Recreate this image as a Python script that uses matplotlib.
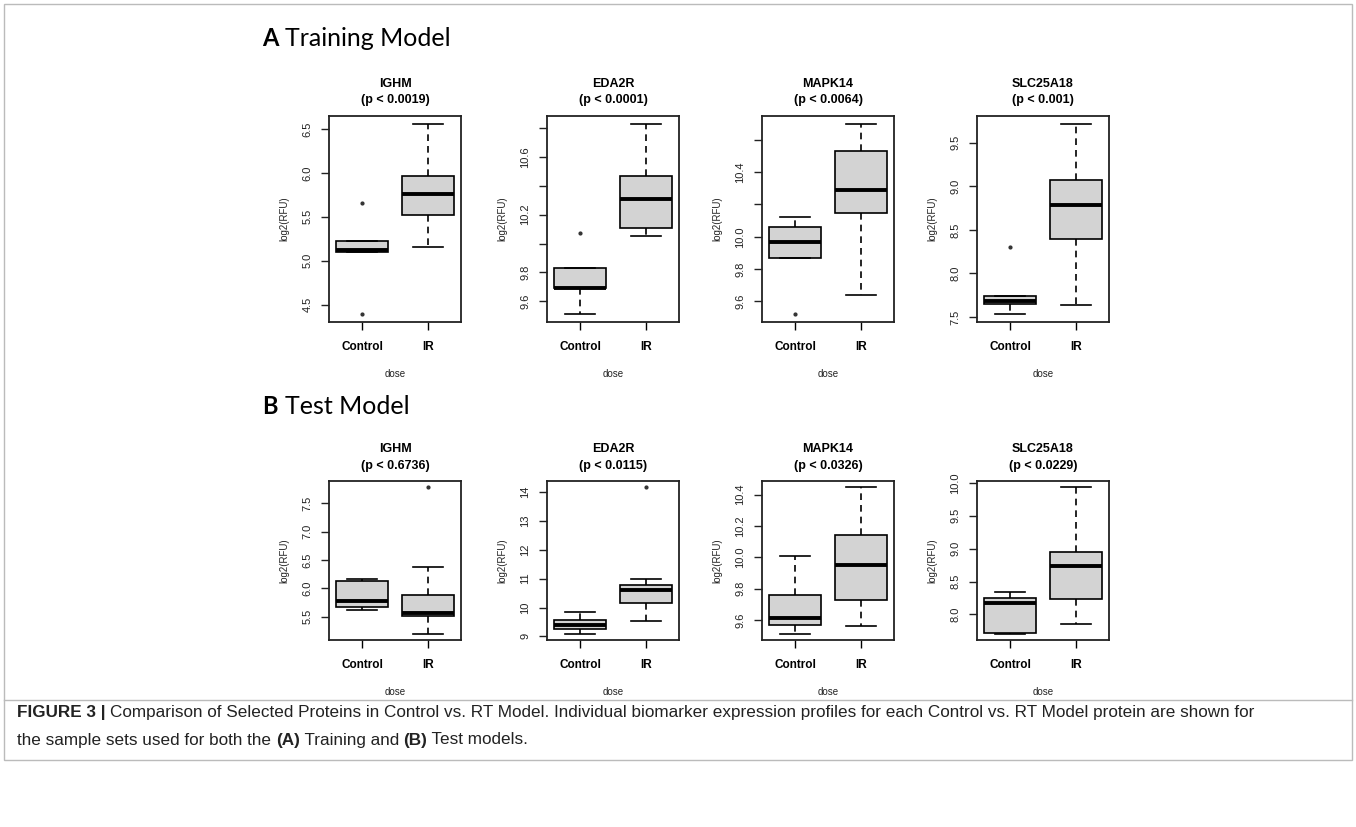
import matplotlib
matplotlib.use("Agg")
import matplotlib.pyplot as plt
from matplotlib.patches import Rectangle
from matplotlib.lines import Line2D

# Boxplot data
genes = ["IGHM", "EDA2R", "MAPK14", "SLC25A18"]
groups = ["Control", "IR"]
train_p = ["0.0019", "0.0001", "0.0064", "0.001"]
test_p = ["0.6736", "0.0115", "0.0326", "0.0229"]

# five number summaries: [whislo, q1, med, q3, whishi]
train_control = [[5.10, 5.10, 5.12, 5.22, 5.22],
                 [9.51, 9.69, 9.69, 9.83, 9.83],
                 [9.87, 9.87, 9.97, 10.06, 10.12],
                 [7.53, 7.645, 7.685, 7.74, 7.74]]
train_ir = [[5.16, 5.52, 5.76, 5.96, 6.56],
            [10.05, 10.105, 10.31, 10.47, 10.83],
            [9.64, 10.15, 10.29, 10.53, 10.70],
            [7.64, 8.39, 8.79, 9.07, 9.72]]
train_control_out = [[5.66, 4.39], [10.07], [9.52], [8.30]]
train_ir_out = [[], [], [], []]

test_control = [[5.61, 5.67, 5.78, 6.13, 6.16],
                [9.08, 9.27, 9.40, 9.58, 9.83],
                [9.51, 9.57, 9.61, 9.76, 10.01],
                [7.70, 7.72, 8.17, 8.25, 8.34]]
test_ir = [[5.19, 5.51, 5.56, 5.88, 6.37],
           [9.53, 10.17, 10.61, 10.77, 11.00],
           [9.56, 9.73, 9.95, 10.145, 10.45],
           [7.86, 8.24, 8.74, 8.95, 9.94]]
test_control_out = [[], [], [], []]
test_ir_out = [[7.79], [14.17], [], []]

# y ticks and which ones R managed to label
train_ticks = [[4.5, 5.0, 5.5, 6.0, 6.5],
               [9.6, 9.8, 10.0, 10.2, 10.4, 10.6, 10.8],
               [9.6, 9.8, 10.0, 10.2, 10.4, 10.6],
               [7.5, 8.0, 8.5, 9.0, 9.5]]
train_ticklabels = [["4.5", "5.0", "5.5", "6.0", "6.5"],
                    ["9.6", "9.8", "", "10.2", "", "10.6", ""],
                    ["9.6", "9.8", "10.0", "", "10.4", ""],
                    ["7.5", "8.0", "8.5", "9.0", "9.5"]]
test_ticks = [[5.5, 6.0, 6.5, 7.0, 7.5],
              [9, 10, 11, 12, 13, 14],
              [9.6, 9.8, 10.0, 10.2, 10.4],
              [8.0, 8.5, 9.0, 9.5, 10.0]]
test_ticklabels = [["5.5", "6.0", "6.5", "7.0", "7.5"],
                   ["9", "10", "11", "12", "13", "14"],
                   ["9.6", "9.8", "10.0", "10.2", "10.4"],
                   ["8.0", "8.5", "9.0", "9.5", "10.0"]]

plt.rcParams['font.family'] = ['Liberation Sans', 'DejaVu Sans']

W, H = 1356, 827
fig = plt.figure(figsize=(W / 100, H / 100), dpi=100)

col_left = [329, 547, 762, 977]
col_width = 132
rows = [(116, 322), (481, 640)]


def make_stats(s, fl):
    return {"whislo": s[0], "q1": s[1], "med": s[2], "q3": s[3],
            "whishi": s[4], "fliers": fl}


def draw_panel(ax, gene, p, ctrl, ir, ctrl_out, ir_out, ticks, labels):
    stats = [make_stats(ctrl, ctrl_out), make_stats(ir, ir_out)]
    ax.bxp(stats, positions=[1, 2], widths=0.78, capwidths=0.45,
           patch_artist=True, showfliers=True,
           boxprops=dict(facecolor="#d3d3d3", edgecolor="black", linewidth=1.2),
           medianprops=dict(color="black", linewidth=2.8, solid_capstyle="butt"),
           whiskerprops=dict(color="black", linewidth=1.2, linestyle=(0, (4, 3))),
           capprops=dict(color="black", linewidth=1.2),
           flierprops=dict(marker="o", markersize=2, markerfacecolor="#333333",
                           markeredgecolor="#333333", linestyle="none"))
    allv = ctrl + ir + ctrl_out + ir_out
    lo, hi = min(allv), max(allv)
    pad = (hi - lo) * 0.04
    ax.set_ylim(lo - pad, hi + pad)
    ax.set_xlim(0.5, 2.5)
    ax.set_yticks(ticks)
    ax.set_yticklabels(labels, rotation=90, va="center", fontsize=8, color="#222222")
    ax.set_xticks([1, 2])
    ax.set_xticklabels(groups, fontsize=8.5, fontweight="bold")
    ax.tick_params(axis="y", length=6, width=1, pad=6, direction="out", colors="#222222")
    ax.tick_params(axis="x", length=6, width=1, pad=8, direction="out")
    for sp in ax.spines.values():
        sp.set_linewidth(1.3)
        sp.set_color("#222222")
    ax.set_title(gene + "\n(p < " + p + ")", fontsize=9, fontweight="bold",
                 pad=9, linespacing=1.5)
    ax.set_ylabel("log2(RFU)", fontsize=7, labelpad=9, color="#222222")
    ax.set_xlabel("dose", fontsize=7, labelpad=11, color="#222222")


for r, (top, bot) in enumerate(rows):
    for c in range(4):
        ax = fig.add_axes([col_left[c] / W, 1 - bot / H, col_width / W, (bot - top) / H])
        if r == 0:
            draw_panel(ax, genes[c], train_p[c], train_control[c], train_ir[c],
                       train_control_out[c], train_ir_out[c],
                       train_ticks[c], train_ticklabels[c])
        else:
            draw_panel(ax, genes[c], test_p[c], test_control[c], test_ir[c],
                       test_control_out[c], test_ir_out[c],
                       test_ticks[c], test_ticklabels[c])

# section headings
head_font = ["Lato", "DejaVu Sans"]
fig.text(262 / W, 1 - 38 / H, "A", fontsize=17, fontweight="bold", va="center",
         family=head_font)
fig.text(285 / W, 1 - 38 / H, "Training Model", fontsize=18, va="center",
         family=head_font)
fig.text(262 / W, 1 - 407 / H, "B", fontsize=17, fontweight="bold", va="center",
         family=head_font)
fig.text(285 / W, 1 - 407 / H, "Test Model", fontsize=18, va="center",
         family=head_font)

# outer frame, with a rule between the panels and the caption
fig.add_artist(Rectangle((4 / W, 1 - 760 / H), (W - 8) / W, 756 / H,
                         transform=fig.transFigure, fill=False,
                         edgecolor="#bbbbbb", linewidth=1))
fig.add_artist(Line2D([4 / W, (W - 4) / W], [1 - 700 / H, 1 - 700 / H],
                      transform=fig.transFigure, color="#bbbbbb", linewidth=1))

# caption with bold pieces placed one after another
cap_font = ["Liberation Sans Narrow", "Liberation Sans", "DejaVu Sans"]
caption = [
    [("FIGURE 3 | ", "bold"),
     ("Comparison of Selected Proteins in Control vs. RT Model. Individual biomarker "
      "expression profiles for each Control vs. RT Model protein are shown for", "normal")],
    [("the sample sets used for both the ", "normal"), ("(A)", "bold"),
     (" Training and ", "normal"), ("(B)", "bold"), (" Test models.", "normal")],
]
renderer = fig.canvas.get_renderer()
for i, line in enumerate(caption):
    x = 17 / W
    y = 1 - (712 + i * 28) / H
    for txt, wt in line:
        t = fig.text(x, y, txt, fontsize=12.3, fontweight=wt, va="center",
                     family=cap_font, color="#222222")
        bb = t.get_window_extent(renderer=renderer)
        x = bb.x1 / W

fig.savefig("out.png", dpi=100)
